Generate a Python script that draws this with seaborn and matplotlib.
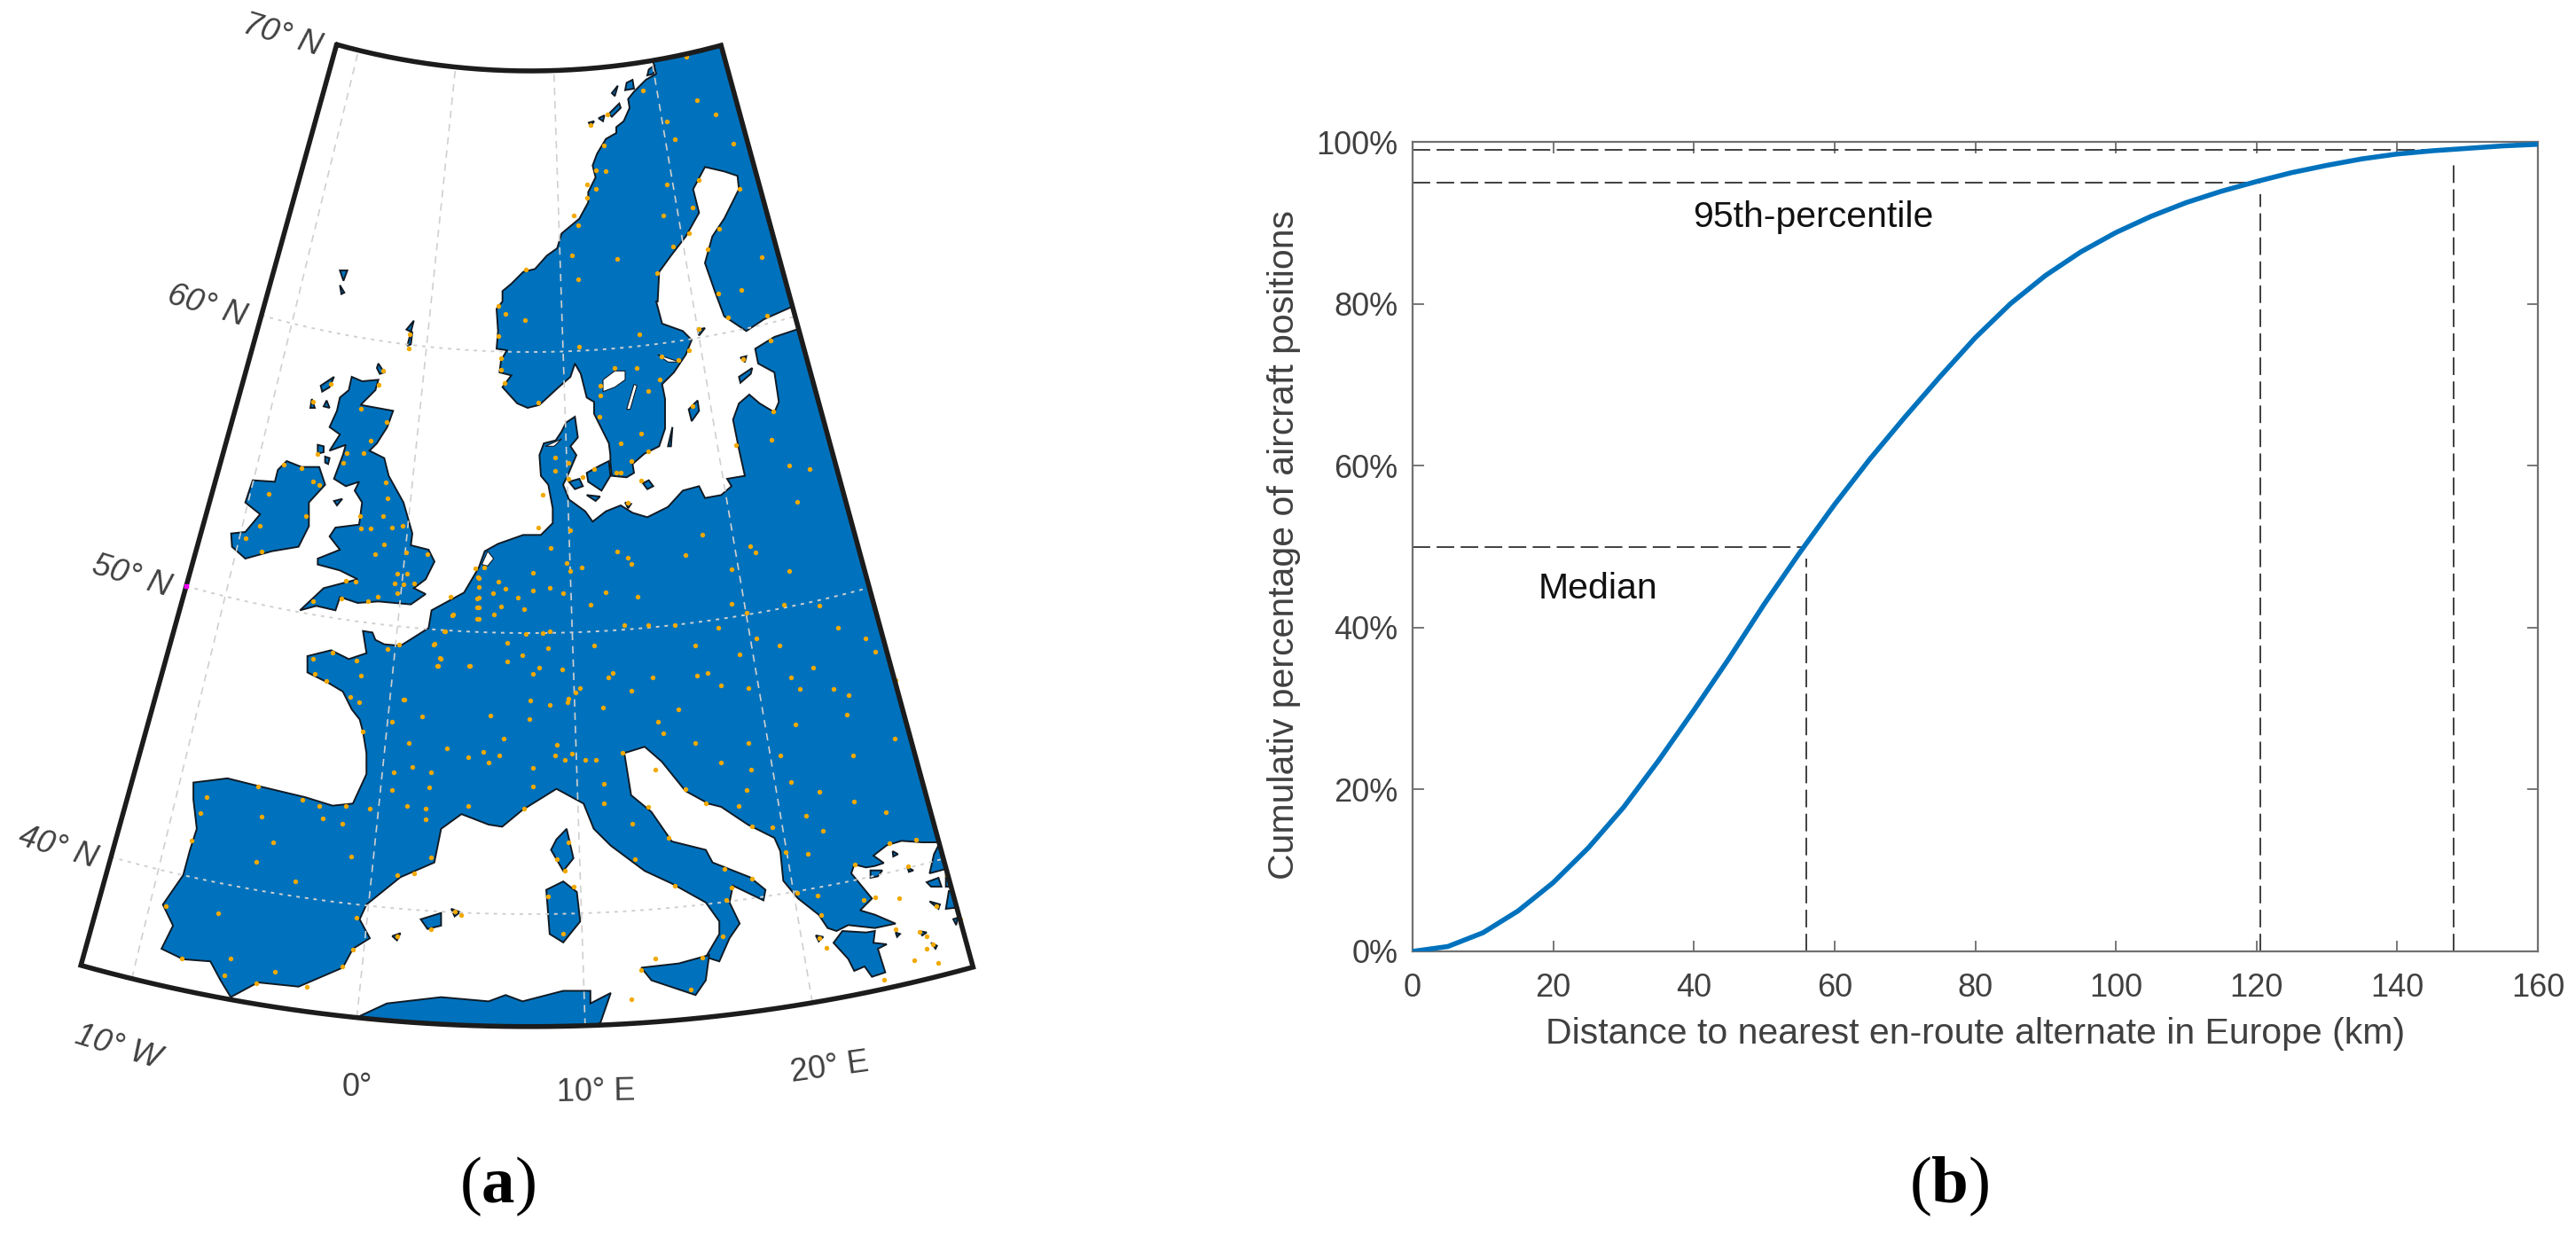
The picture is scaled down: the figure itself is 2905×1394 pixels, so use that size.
# Europe map with en-route alternates (a) and cumulative distance curve (b)
import numpy as np
import pandas as pd
import seaborn as sns
import matplotlib.pyplot as plt
from matplotlib.patches import PathPatch
from matplotlib.path import Path

W, H = 2905, 1394


def n(pts):
    return [(x / 1.3067, y / 2.24) for x, y in pts]


def s(pts):
    return [(x / 1.3067, 650 + y / 2.107) for x, y in pts]


def uk(pts):
    return [(50 + x / 3, 300 + y / 3) for x, y in pts]


def gr(pts):
    return [(800 + x / 3, 850 + y / 3) for x, y in pts]


def sc(pts):
    return [(540 + x / 3, 40 + y / 3) for x, y in pts]


def ba(pts):
    return [(540 + x / 3, 340 + y / 3) for x, y in pts]


mainland = sc([(600, 0), (590, 90), (600, 130), (565, 150), (525, 190), (505, 215), (510, 245), (490, 290), (465, 310),
               (465, 330), (430, 350), (400, 400), (385, 440), (395, 480), (370, 530), (370, 565), (340, 620),
               (280, 670), (265, 720), (230, 745), (190, 790), (150, 800), (110, 840), (80, 865), (80, 900),
               (60, 925), (65, 1000)]) + \
    ba([(65, 100), (60, 160), (95, 165), (75, 200), (70, 240), (110, 250), (80, 290), (130, 345), (165, 360),
        (205, 350), (270, 290), (310, 255), (325, 210), (345, 245), (365, 325), (390, 340), (390, 380), (440, 480),
        (445, 520), (445, 545), (450, 590), (500, 595), (525, 580), (520, 550), (560, 515), (610, 490), (630, 430),
        (630, 330), (620, 280), (660, 240), (700, 180), (720, 130), (690, 100), (620, 75), (600, 0)]) + \
    sc([(605, 900), (610, 800), (650, 745), (700, 680), (745, 600), (725, 520), (765, 445), (830, 460), (875, 475),
        (880, 520), (830, 620), (790, 680), (765, 770), (800, 870), (830, 950)]) + \
    ba([(905, 100), (965, 60), (1055, 20), (1120, 30), (1120, 95), (1075, 95), (1000, 120), (935, 160), (945, 210),
        (1000, 240), (1015, 340), (1000, 375), (950, 345), (915, 315), (880, 345), (860, 400), (880, 500), (900, 590),
        (840, 600), (855, 625), (820, 655), (765, 665), (745, 625), (690, 640), (640, 695), (570, 730), (520, 715),
        (480, 690), (430, 710), (385, 745), (360, 710), (305, 670), (285, 620), (300, 590), (330, 520), (310, 490),
        (335, 460), (325, 390), (295, 410), (280, 440), (260, 470), (220, 480), (205, 520), (210, 590), (235, 620),
        (250, 700), (250, 750), (210, 790), (150, 790), (65, 820), (20, 845), (0, 900)]) + \
    uk([(1420, 1105), (1310, 1165), (1300, 1225), (1205, 1285), (1150, 1280),
        (1120, 1265), (1110, 1240), (1078, 1235), (1090, 1310), (1030, 1330), (970, 1300), (890, 1320),
        (890, 1375), (960, 1410), (1010, 1440), (1040, 1500)]) + \
    s([(530, 340), (535, 370), (540, 420), (540, 470), (520, 540),
       (490, 545), (450, 525), (385, 500), (335, 480), (285, 490), (285, 530), (290, 600), (280, 650), (270, 710),
       (240, 780), (255, 830), (238, 885), (270, 910), (310, 915), (325, 960), (340, 1000), (380, 965), (440, 975),
       (505, 930), (520, 885), (545, 860), (530, 815), (540, 780), (590, 715), (640, 680), (650, 600), (680, 565),
       (720, 590), (740, 595), (770, 555), (820, 505), (860, 540), (875, 600), (900, 640), (950, 700), (990, 730),
       (1040, 775), (1060, 820), (1060, 850), (1040, 905), (1060, 915), (1075, 860), (1090, 825), (1075, 775),
       (1080, 735), (1125, 770), (1128, 745), (1105, 715), (1050, 680), (1040, 650), (990, 630), (960, 560),
       (930, 520), (920, 420), (950, 405), (975, 440), (1010, 510), (1045, 541)]) + \
    gr([(0, 170), (40, 180), (130, 240), (220, 285), (240, 330), (250, 430), (300, 490), (370, 545), (400, 590),
        (430, 600), (470, 580), (560, 590), (630, 575), (560, 545), (510, 530), (550, 490), (480, 405), (490, 375),
        (530, 385), (560, 380), (590, 370), (555, 345), (600, 310), (650, 295), (720, 300), (775, 300),
        (900, 300)]) + \
    s([(1600, 0)]) + n([(1300, 60)])

islands = [
    sc([(450, 195), (470, 170), (460, 205)]),
    sc([(500, 160), (520, 150), (525, 180), (495, 185)]),
    sc([(440, 265), (475, 230), (480, 245), (450, 275)]),
    sc([(405, 280), (425, 270), (420, 290)]),
    sc([(372, 295), (390, 290), (378, 308)]),
    sc([(575, 115), (595, 100), (590, 130), (570, 135)]),
    uk([(1000, 15), (1025, 15), (1012, 50)]),
    uk([(1000, 65), (1015, 90), (1005, 95)]),
    uk([(1250, 185), (1225, 215), (1245, 225), (1240, 265), (1228, 270)]),
    uk([(1130, 330), (1150, 360), (1135, 365), (1125, 345)]),
    uk([(935, 405), (980, 375), (965, 410), (940, 425)]),
    uk([(905, 450), (915, 480), (900, 480)]),
    uk([(955, 455), (965, 480), (945, 475)]),
    uk([(1040, 375), (1075, 390), (1130, 385), (1120, 420), (1070, 470), (1180, 490), (1160, 545), (1125, 600),
        (1100, 625), (1150, 650), (1165, 710), (1215, 800), (1245, 905), (1240, 945), (1300, 960), (1320, 1000),
        (1290, 1060), (1250, 1090), (1290, 1110), (1240, 1145), (1130, 1135), (1060, 1140), (1000, 1120),
        (985, 1165), (920, 1150), (865, 1165), (945, 1090), (1060, 1060), (1000, 1030), (925, 1010), (925, 990),
        (1000, 960), (965, 915), (985, 885), (1065, 875), (1075, 800), (1050, 760), (1065, 730), (1020, 745),
        (980, 720), (1010, 640), (1020, 605), (965, 625), (1000, 570), (965, 545), (990, 490), (1000, 445),
        (1030, 420)]),
    uk([(820, 660), (870, 680), (930, 680), (950, 740), (895, 800), (895, 880), (860, 950), (770, 965), (680, 990),
        (635, 950), (632, 905), (680, 900), (730, 840), (680, 800), (705, 725), (780, 730), (790, 690)]),
    uk([(980, 795), (1008, 788), (990, 810)]),
    uk([(925, 605), (945, 610), (945, 630), (925, 635)]),
    uk([(950, 645), (965, 650), (960, 670), (950, 665)]),
    ba([(740, 95), (765, 90), (745, 115)]),
    ba([(885, 190), (905, 185), (900, 205)]),
    ba([(880, 255), (925, 225), (920, 245), (885, 275)]),
    ba([(710, 365), (740, 335), (745, 370), (720, 405)]),
    ba([(640, 490), (655, 425), (650, 490)]),
    ba([(365, 580), (410, 555), (440, 540), (445, 590), (415, 640), (370, 610)]),
    ba([(305, 610), (340, 600), (352, 625), (325, 635)]),
    ba([(365, 655), (410, 660), (395, 675)]),
    ba([(495, 680), (515, 685), (505, 700)]),
    ba([(555, 615), (575, 605), (590, 625), (570, 635)]),
    s([(835, 600), (845, 670), (830, 700), (812, 650), (820, 625)]),
    s([(830, 725), (850, 750), (855, 820), (830, 870), (810, 850), (805, 745)]),
    s([(945, 930), (1000, 920), (1045, 900), (1040, 960), (1025, 995), (960, 960)]),
    s([(620, 815), (650, 800), (650, 830), (630, 838)]),
    s([(665, 790), (678, 798), (670, 808)]),
    s([(578, 855), (590, 848), (585, 865)]),
    s([(530, 1045), (570, 1015), (650, 1000), (720, 1010), (745, 995), (770, 1010), (830, 985), (870, 985),
       (870, 1015), (900, 990), (885, 1060), (850, 1100), (600, 1100)]),
    gr([(450, 600), (530, 605), (560, 600), (555, 640), (600, 645), (570, 660), (595, 740), (550, 755), (525, 720),
        (490, 735), (470, 695), (420, 640)]),
    gr([(620, 330), (638, 340), (622, 348)]),
    gr([(545, 395), (585, 395), (570, 415), (545, 420)]),
    gr([(670, 385), (690, 395), (675, 400)]),
    gr([(775, 310), (800, 390), (745, 405), (760, 340)]),
    gr([(735, 435), (775, 420), (785, 450), (750, 450)]),
    gr([(800, 400), (825, 450), (800, 450)]),
    gr([(810, 465), (835, 470), (845, 520), (800, 525)]),
    gr([(745, 500), (780, 510), (775, 525)]),
    gr([(825, 560), (840, 555), (835, 580)]),
    gr([(710, 600), (735, 605), (720, 615)]),
    gr([(360, 615), (385, 620), (370, 635)]),
    gr([(750, 640), (770, 650), (765, 660)]),
    gr([(630, 605), (645, 610), (635, 620)]),
]

lakes = [
    ba([(420, 265), (460, 235), (495, 235), (495, 265), (460, 290), (420, 305)]),
    ba([(500, 365), (525, 280), (535, 285), (512, 365)]),
    ba([(605, 180), (650, 195), (680, 205), (640, 205)]),
    ba([(225, 490), (280, 465), (255, 490)]),
    ba([(30, 845), (50, 870), (30, 895), (10, 890)]),
]

north_dots = [(1012, 143), (948, 228), (1027, 253), (1055, 290), (983, 307), (895, 290), (870, 315), (995, 352),
              (1080, 362), (890, 368), (878, 430), (893, 433), (1030, 455), (1090, 478), (865, 465), (878, 478),
              (982, 467), (865, 500), (978, 545), (845, 545), (852, 570), (1020, 525), (1060, 578), (1015, 590),
              (992, 622), (1043, 630), (843, 645), (910, 655), (1123, 650), (775, 680), (968, 690), (852, 705),
              (1092, 733), (1058, 742), (735, 772), (745, 793), (773, 808), (1073, 802), (1130, 797), (942, 845),
              (1030, 832), (853, 875), (735, 850), (738, 905), (1135, 860), (1095, 908), (1015, 885),
              (975, 900), (938, 930), (738, 935), (905, 930), (885, 975), (1000, 910), (972, 958), (955, 987),
              (743, 968), (885, 1000), (793, 1018), (1020, 1025), (1140, 1040), (883, 1053), (1137, 1112),
              (945, 1095), (1085, 1125), (955, 1140), (915, 1120), (930, 1165), (915, 1195), (945, 1215),
              (908, 1195), (1163, 1175), (1193, 1185), (1175, 1268), (1035, 1350), (1105, 1380), (1113, 1395),
              (910, 1393), (925, 1408), (930, 1425), (1010, 1403), (840, 1340), (793, 1332), (812, 1384),
              (835, 1422), (857, 1433), (785, 1448), (840, 1443), (1078, 1437), (1163, 1443), (700, 1435),
              (705, 1460), (735, 1470), (818, 1155), (838, 1170), (818, 1190), (837, 1210), (875, 1185),
              (800, 1250), (925, 1270), (858, 1205)]

# Britain and Ireland, from the crop with the uk() scale
uk_dots = [(1130, 403), (1145, 355), (1235, 230), (1232, 280), (970, 400), (908, 460), (925, 635), (1070, 482),
           (1157, 527), (1105, 592), (1022, 632), (1080, 632), (1010, 667), (1155, 733), (1162, 787), (810, 672),
           (870, 683), (910, 730), (930, 740), (760, 772), (885, 845), (728, 880), (682, 922), (735, 967),
           (1067, 845), (1145, 845), (1072, 887), (1104, 887), (1176, 885), (1212, 880), (1150, 943), (1120, 975),
           (1225, 970), (1295, 975), (1193, 1040), (1226, 1042), (1020, 1065), (1052, 1067), (1185, 1075),
           (1214, 1077), (1250, 1075), (1195, 1108), (908, 1135), (1005, 1125), (1095, 1133), (1128, 1120),
           (1375, 1120), (1465, 1125), (1467, 1053), (1488, 1020), (1465, 1155), (1382, 1180), (1465, 1195),
           (1355, 1237), (1318, 1280), (1200, 1280), (1160, 1295), (1055, 1335), (975, 1308), (908, 1330),
           (1338, 1327), (1330, 1352), (1438, 1352), (1072, 1387), (915, 1380), (955, 1403), (1035, 1458),
           (1065, 1475), (1217, 1467)]

south_dots = [(705, 25), (727, 40), (745, 30), (785, 33), (810, 28), (830, 40), (763, 50), (893, 38), (940, 48),
              (705, 50), (705, 73), (738, 72), (772, 78), (667, 92), (728, 90), (705, 102), (870, 68), (1078, 65),
              (1155, 67), (1208, 70), (1100, 87), (655, 130), (775, 138), (800, 135), (810, 130), (920, 115),
              (955, 115), (995, 115), (1058, 122), (1235, 122), (1115, 148), (1275, 148), (640, 160), (747, 158),
              (808, 170), (875, 165), (1025, 165), (1148, 165), (1090, 185), (1290, 180), (650, 195),
              (645, 212), (770, 188), (748, 203), (692, 213), (795, 218), (828, 222), (1198, 217), (785, 232),
              (903, 230), (897, 240), (1043, 230), (1027, 237), (962, 240), (1165, 240), (1320, 247),
              (1062, 260), (1103, 265), (1178, 268), (1228, 268), (855, 265), (848, 275), (930, 272),
              (1250, 283), (838, 290), (836, 300), (782, 295), (810, 305), (888, 312), (1000, 315), (595, 292),
              (622, 333), (723, 330), (780, 340), (1248, 328), (970, 345), (1172, 352),
              (578, 345), (977, 372), (1318, 385), (535, 368), (742, 385), (603, 397), (658, 408), (820, 400),
              (712, 418), (736, 425), (690, 430), (720, 442), (818, 425), (843, 422), (832, 437), (862, 437),
              (878, 437), (1024, 397), (1103, 397), (1150, 425), (1257, 425), (917, 420), (1063, 442), (965, 460),
              (785, 455), (607, 452), (580, 465), (635, 465), (1107, 460), (1165, 488), (890, 492), (785, 500),
              (633, 502), (578, 507), (1100, 507), (1207, 512), (1010, 505), (305, 525), (380, 500), (445, 530),
              (470, 545), (510, 545), (890, 540), (955, 548), (1040, 540), (1088, 545), (1258, 535), (545, 553),
              (600, 545), (627, 553), (690, 545), (772, 552), (1305, 560), (1188, 568), (295, 563), (385, 570),
              (475, 575), (627, 578), (505, 588), (932, 587), (1108, 595), (1138, 597), (1212, 605), (282, 628),
              (403, 633), (985, 622), (1350, 625), (1310, 635), (838, 632), (1158, 655), (1190, 660), (518, 665),
              (378, 678), (635, 668), (820, 672), (1260, 685), (1338, 690), (935, 672), (1068, 695), (610, 705),
              (585, 710), (833, 700), (1395, 710), (1108, 718), (435, 725), (995, 735), (845, 738), (1078, 740),
              (1205, 758), (808, 760), (1175, 752), (1290, 763), (1325, 765), (1273, 770), (245, 783), (1380, 783),
              (322, 800), (670, 797), (680, 805), (1070, 770), (525, 812), (1210, 805), (1415, 815), (635, 838),
              (1320, 838), (1355, 845), (1365, 855), (585, 855), (1207, 860), (1065, 855), (830, 850), (1375, 875),
              (1218, 882), (1365, 885), (520, 888), (268, 908), (340, 908), (1347, 912), (1382, 918), (965, 908),
              (1035, 905), (505, 928), (945, 935), (405, 940), (1018, 982), (330, 948), (378, 968), (452, 975),
              (1303, 958), (930, 1005)]

meridians = [-10, 0, 10, 20]
parallels = [40, 50, 60]
map_labels = ["70° N", "60° N", "50° N", "40° N", "10° W", "0°", "10° E", "20° E"]
label_x = [318, 233, 148, 65, 133, 403, 672, 936]
label_y = [40, 345, 650, 956, 1181, 1226, 1232, 1204]
label_rot = [-17, -17, -17, -17, -17, 0, 1, 8]
label_style = ["italic", "italic", "italic", "italic", "italic", "normal", "normal", "normal"]

distance_km = [0, 5, 10, 15, 20, 25, 30, 35, 40, 45, 50, 55, 60, 65, 70, 75, 80, 85, 90, 95, 100, 105, 110, 115,
               120, 125, 130, 135, 140, 145, 150, 155, 160]
cumulative_pct = [0, 0.6, 2.3, 5, 8.5, 12.8, 17.8, 23.6, 29.8, 36.2, 42.9, 49.2, 55.2, 60.8, 66, 71, 75.8, 80, 83.5,
                  86.4, 88.8, 90.8, 92.5, 93.9, 95.1, 96.2, 97.1, 97.9, 98.5, 98.9, 99.2, 99.5, 99.7]
ref_x = [56, 120.5, 148]
ref_y = [50, 95, 99]

BLUE = "#0072BD"
DARK = "#404040"

sns.set_theme(style="white")
plt.rcParams['font.family'] = ['Liberation Sans', 'DejaVu Sans']
plt.rcParams['mathtext.fontset'] = 'custom'
plt.rcParams['mathtext.rm'] = 'Liberation Serif'
plt.rcParams['mathtext.bf'] = 'Liberation Serif:bold'

fig = plt.figure(figsize=(W / 100, H / 100), dpi=100)
ax = fig.add_axes([0, 0, 1, 1])
ax.set_xlim(0, W)
ax.set_ylim(H, 0)
ax.axis("off")


# conic projection of the map, fitted to the graticule in the picture
def proj(lon, lat):
    r = 816 + (70 - np.asarray(lat, dtype=float)) * 31.7
    t = np.radians((np.asarray(lon, dtype=float) - 7.6) * 0.78)
    return 598 + r * np.sin(t), -736 + r * np.cos(t)


LON0, LON1, LAT0, LAT1 = -12.3, 27.2, 36, 70
lons = np.linspace(LON0, LON1, 60)
lats = np.linspace(LAT0, LAT1, 60)
fx = np.r_[proj(lons, LAT1)[0], proj(LON1, lats[::-1])[0], proj(lons[::-1], LAT0)[0], proj(LON0, lats)[0]]
fy = np.r_[proj(lons, LAT1)[1], proj(LON1, lats[::-1])[1], proj(lons[::-1], LAT0)[1], proj(LON0, lats)[1]]
clip = PathPatch(Path(np.column_stack([fx, fy])), transform=ax.transData, fc="none", ec="none")
ax.add_patch(clip)

for poly in [mainland] + islands:
    px, py = zip(*poly)
    patch = ax.fill(px, py, fc=BLUE, ec="#101a24", lw=1.4, zorder=2)[0]
    patch.set_clip_path(clip)
for poly in lakes:
    px, py = zip(*poly)
    ax.fill(px, py, fc="white", ec="#101a24", lw=0.8, zorder=2.1)

for lon in meridians:
    ax.plot(*proj(lon, lats), color="#d0d0d0", lw=1.2, ls=(0, (5, 4)), zorder=3)
for lat in parallels:
    ax.plot(*proj(lons, lat), color="#d0d0d0", lw=1.4, ls=(0, (2, 3)), zorder=3)

dots = pd.DataFrame(n(north_dots) + uk(uk_dots) + s(south_dots), columns=["x", "y"])
sns.scatterplot(data=dots, x="x", y="y", color="#F2A900", s=15, linewidth=0, zorder=4, ax=ax)
ax.set_xlim(0, W)
ax.set_ylim(H, 0)
ax.axis("off")

ax.plot(fx, fy, color="#1c1c1c", lw=4, zorder=5, solid_joinstyle="miter")
ax.plot(*proj(LON0, 50), marker="s", ms=3, color="magenta", zorder=6)

for txt, lx, ly, rot, st in zip(map_labels, label_x, label_y, label_rot, label_style):
    ax.text(lx, ly, txt, color=DARK, fontsize=26, rotation=rot, ha="center", va="center", style=st)

ax.text(561, 1338, r"($\mathbf{a}$)", fontsize=54, color="black", ha="center", va="center",
        family="Liberation Serif")
ax.text(2198, 1338, r"($\mathbf{b}$)", fontsize=54, color="black", ha="center", va="center",
        family="Liberation Serif")

# right panel
ax2 = fig.add_axes([1593 / W, 1 - 1073 / H, (2862 - 1593) / W, (1073 - 160) / H])
ax2.set_facecolor("none")
curve = pd.DataFrame({"km": distance_km, "pct": cumulative_pct})
sns.lineplot(data=curve, x="km", y="pct", color=BLUE, lw=4, ax=ax2, zorder=3)
for xv, yv in zip(ref_x, ref_y):
    ax2.plot([0, xv], [yv, yv], color="#303030", lw=1.3, ls=(0, (11, 4)), zorder=2)
    ax2.plot([xv, xv], [0, yv - 1.5], color="#303030", lw=1.3, ls=(0, (11, 4)), zorder=2)
ax2.set_xlim(0, 160)
ax2.set_ylim(0, 100)
ax2.set_xticks(range(0, 161, 20))
ax2.set_yticks(range(0, 101, 20))
ax2.set_yticklabels([f"{v}%" for v in range(0, 101, 20)])
ax2.tick_params(axis="both", direction="in", length=9, width=1.2, color="#606060", labelcolor=DARK,
                labelsize=26, top=True, right=True, bottom=True, left=True)
ax2.tick_params(axis="x", pad=17)
ax2.tick_params(axis="y", pad=12)
for sp in ax2.spines.values():
    sp.set_visible(True)
    sp.set_color("#707070")
    sp.set_linewidth(1.6)
ax2.set_xlabel("Distance to nearest en-route alternate in Europe (km)", fontsize=29.5, color=DARK)
ax2.set_ylabel("Cumulativ percentage of aircraft positions", fontsize=29.5, color=DARK)
ax2.xaxis.set_label_coords(0.5, -0.081)
ax2.yaxis.set_label_coords(-0.0993, 0.502)
ax2.text(26.4, 44.8, "Median", fontsize=29.5, color="#111111", ha="center", va="center")
ax2.text(57, 90.7, "95th-percentile", fontsize=29.5, color="#111111", ha="center", va="center")

fig.savefig("out.png", dpi=100, facecolor="white")
